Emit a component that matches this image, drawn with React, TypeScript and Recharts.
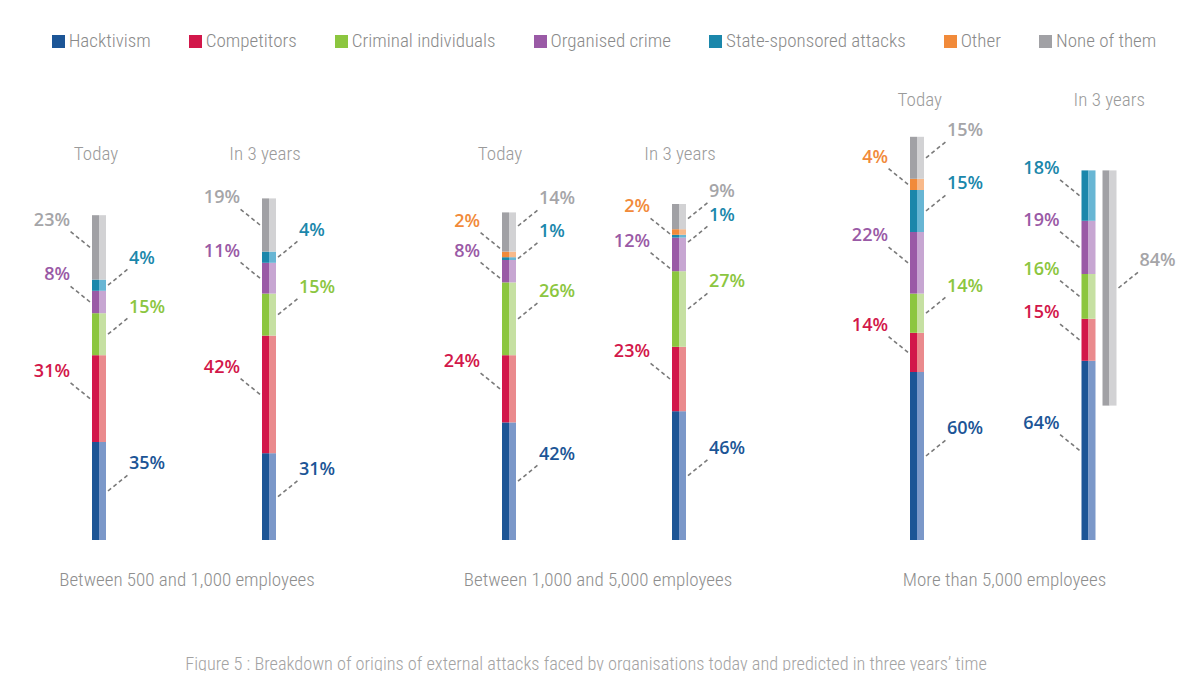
import React from 'react';
import { BarChart, Bar, XAxis, YAxis } from 'recharts';

// ---------- data ----------
const groups = ['Between 500 and 1,000 employees', 'Between 1,000 and 5,000 employees', 'More than 5,000 employees'];
const periods = ['Today', 'In 3 years'];
const seriesNames = ['Hacktivism', 'Competitors', 'Criminal individuals', 'Organised crime', 'State-sponsored attacks', 'Other', 'None of them'];

// one value per bar: [g1 today, g1 in 3y, g2 today, g2 in 3y, g3 today, g3 in 3y]
const hacktivism = [35, 31, 42, 46, 60, 64];
const competitors = [31, 42, 24, 23, 14, 15];
const criminal = [15, 15, 26, 27, 14, 16];
const organised = [8, 11, 8, 12, 22, 19];
const stateSponsored = [4, 4, 1, 1, 15, 18];
const other: (number | null)[] = [null, null, 2, 2, 4, null];
const noneOfThem = [23, 19, 14, 9, 15, 84];
const noneDrawnApart = [false, false, false, false, false, true];
const labelsAllLeft = [false, false, false, false, false, true];

const caption = 'Figure 5 : Breakdown of origins of external attacks faced by organisations today and predicted in three years\u2019 time';

// ---------- styles ----------
const keys = ['hack', 'comp', 'crim', 'org', 'state', 'other', 'none'];
const seriesValues = [hacktivism, competitors, criminal, organised, stateSponsored, other, noneOfThem];
const darkColors = ['#1c5596', '#d2174a', '#8cc63f', '#9a5aa6', '#1b87ab', '#f18a3a', '#a1a1a5'];
const lightColors = ['#7b98c9', '#ea8a8d', '#c6e0a2', '#c7a6d2', '#68b6d4', '#f8b98a', '#d2d2d4'];
const textColors = ['#1c5596', '#d2174a', '#8cc63f', '#9a5aa6', '#1b87ab', '#f18a3a', '#a5a5a8'];

const thinFont = "Roboto, 'DejaVu Sans Condensed', sans-serif";
const thinStyle: React.CSSProperties = { fontStretch: '75%', fontWeight: 300 };
const labelFont = "'Open Sans', 'Noto Sans', sans-serif";

// leader-end nudges (px) for crowded small segments, per bar index
const leaderNudge: Record<string, number> = {
  '2-none': -6, '2-other': -6, '2-org': 7,
  '3-none': 2, '3-other': 2, '3-state': 6, '3-org': 14,
};

const chartBoxes = [
  { left: 14, width: 340, titleY: 160, titleDx: [-3, -4], groupDx: 3 },
  { left: 424, width: 340, titleY: 160, titleDx: [-9, 1], groupDx: 4 },
  { left: 842, width: 343, titleY: 106, titleDx: [-8, 10], groupDx: -9 },
];

function buildGroup(g: number) {
  return periods.map((period, p) => {
    const i = g * 2 + p;
    const entry: any = { period, barIndex: i, sides: {} };
    const visible: string[] = [];
    let total = 0;
    keys.forEach((k, s) => {
      const v = seriesValues[s][i];
      if (k === 'none' && noneDrawnApart[i]) {
        entry.none = null;
        return;
      }
      entry[k] = v;
      if (v != null) {
        visible.push(k);
        total += v;
      }
    });
    visible.forEach((k, j) => {
      entry.sides[k] = labelsAllLeft[i] ? 'L' : j % 2 === 0 ? 'R' : 'L';
    });
    if (noneDrawnApart[i]) {
      entry.noneApart = [total - noneOfThem[i], total];
      entry.noneApartValue = noneOfThem[i];
      entry.sides.noneApart = 'R';
    } else {
      entry.noneApart = null;
    }
    return entry;
  });
}

const Segment = (props: any) => {
  const { x, y, width, height, payload, k, s } = props;
  if (height == null || width == null || !payload) return null;
  const raw = k === 'noneApart' ? payload.noneApartValue : payload[k];
  if (raw == null) return null;
  const side = payload.sides[k];
  const midY = y + height / 2 + (leaderNudge[`${payload.barIndex}-${k}`] || 0);
  const half = width / 2;
  let x0: number, x1: number;
  if (side === 'R') {
    x0 = x + width + 2;
    x1 = x0 + 21;
  } else {
    x0 = x - 2;
    x1 = x0 - 21;
  }
  const y1 = midY - 17;
  return (
    <g>
      <rect x={x} y={y} width={half} height={height} fill={darkColors[s]} />
      <rect x={x + half} y={y} width={width - half} height={height} fill={lightColors[s]} />
      <line x1={x0} y1={midY} x2={x1} y2={y1} stroke="#7a7a7a" strokeWidth={1.6} strokeDasharray="4 3" />
      <text
        x={side === 'R' ? x1 : x1 + 1}
        y={y1 - 11}
        dy="0.36em"
        textAnchor={side === 'R' ? 'start' : 'end'}
        fill={textColors[s]}
        fontFamily={labelFont}
        fontWeight={600}
        fontSize={18}
      >
        {raw}%
      </text>
    </g>
  );
};

function GroupChart({ g }: { g: number }) {
  const box = chartBoxes[g];
  const data = buildGroup(g);
  const hasApart = data.some((d: any) => d.noneApart != null);
  return (
    <div style={{ position: 'absolute', left: box.left, top: 0 }}>
      <BarChart
        width={box.width}
        height={590}
        data={data}
        margin={{ top: 120, right: 0, bottom: 0, left: 0 }}
        barSize={14}
        barGap={7}
      >
        <XAxis
          dataKey="period"
          axisLine={false}
          tickLine={false}
          height={50}
          interval={0}
          tick={(p: any) => (
            <text
              x={p.x + box.titleDx[p.index]}
              y={box.titleY}
              textAnchor="middle"
              fill="#9a9a9a"
              fontFamily={thinFont}
              fontSize={19}
              style={thinStyle}
            >
              {p.payload.value}
            </text>
          )}
          label={{
            value: groups[g],
            position: 'insideBottom',
            offset: 4,
            dx: box.groupDx,
            fill: '#8e8e8e',
            fontFamily: thinFont,
            fontSize: 19,
            style: thinStyle,
          }}
        />
        <YAxis hide domain={[0, 150]} />
        {keys.map((k, s) => (
          <Bar
            key={k}
            dataKey={k}
            stackId="a"
            isAnimationActive={false}
            shape={(p: any) => <Segment {...p} k={k} s={s} />}
          />
        ))}
        {hasApart && (
          <Bar
            dataKey="noneApart"
            isAnimationActive={false}
            shape={(p: any) => <Segment {...p} k="noneApart" s={6} />}
          />
        )}
      </BarChart>
    </div>
  );
}

export default function App() {
  return (
    <div
      style={{
        position: 'relative',
        width: 1200,
        height: 679,
        margin: -8,
        background: '#ffffff',
        overflow: 'hidden',
      }}
    >
      <div
        style={{
          position: 'absolute',
          left: 0,
          top: 30,
          width: 1208,
          display: 'flex',
          justifyContent: 'center',
          gap: 38,
          fontFamily: thinFont,
          ...thinStyle,
          fontSize: 19,
          color: '#8a8a8a',
          lineHeight: '22px',
          whiteSpace: 'nowrap',
        }}
      >
        {seriesNames.map((n, s) => (
          <div key={n} style={{ display: 'flex', alignItems: 'center' }}>
            <span style={{ width: 13, height: 13, background: darkColors[s], marginRight: 4, display: 'inline-block' }} />
            <span>{n}</span>
          </div>
        ))}
      </div>
      {groups.map((_, g) => (
        <GroupChart key={g} g={g} />
      ))}
      <div
        style={{
          position: 'absolute',
          left: 0,
          top: 653,
          width: 1172,
          textAlign: 'center',
          fontFamily: thinFont,
          ...thinStyle,
          fontSize: 18.3,
          color: '#a3a3a3',
          lineHeight: '22px',
          whiteSpace: 'nowrap',
        }}
      >
        {caption}
      </div>
      <div style={{ position: 'absolute', left: 0, top: 677, width: 1200, height: 1, background: '#ececec' }} />
    </div>
  );
}
